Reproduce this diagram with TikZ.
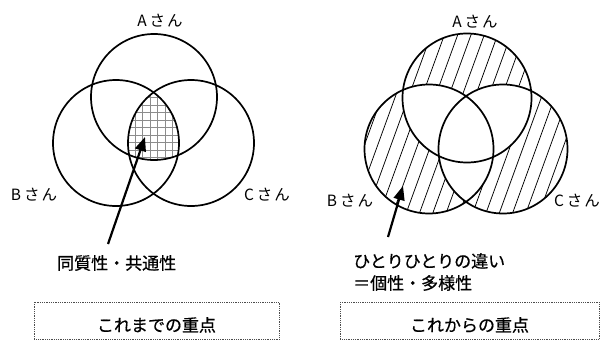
\documentclass[tikz,border=0pt]{standalone}
\usepackage{fontspec}
\setmainfont{Noto Sans CJK JP}
\newfontfamily\jpbold[FakeBold=0.6]{Noto Sans CJK JP}
\usetikzlibrary{arrows.meta}
\newcommand{\sanlabel}[1]{#1\kern3ptさ\kern2ptん}
\begin{document}
\begin{tikzpicture}[x=1pt,y=-1pt,
  circ/.style={line width=1.7pt},
  lbl/.style={font=\fontsize{15.5}{15.5}\selectfont, inner sep=0pt},
  jtxt/.style={font=\jpbold\fontsize{17}{22}\selectfont, inner sep=0pt, anchor=west, align=left},
  boxtxt/.style={font=\jpbold\fontsize{17}{17}\selectfont, inner sep=0pt},
  keyframe/.style={draw=black!70, densely dotted, line width=0.8pt},
  gridline/.style={draw=black!45, line width=0.8pt},
  hatchline/.style={draw=black, line width=0.75pt},
  pointer/.style={line width=2.2pt, -{Triangle[length=14pt,width=11pt]}}
]
\useasboundingbox (0,0) rectangle (601,340);
% ---------- left diagram ----------
\coordinate (lA) at (154,97);
\coordinate (lB) at (116,143);
\coordinate (lC) at (191,143);
\begin{scope}
  \clip (lA) circle (63);
  \clip (lB) circle (63);
  \clip (lC) circle (63);
  \draw[gridline] (100,80) grid[step=7.5pt] (230,220);
\end{scope}
\draw[circ] (lA) circle (63);
\draw[circ] (lB) circle (63);
\draw[circ] (lC) circle (63);
\node[lbl] (lAlab) at (160,21) {\sanlabel{A}};
\node[lbl] (lBlab) at (34,195) {\sanlabel{B}};
\node[lbl] (lClab) at (267,195) {\sanlabel{C}};
\coordinate (lTail) at (108,244);
\coordinate (lTip) at (145,137);
\draw[pointer] (lTail) -- (lTip);
\node[jtxt] (ltext) at (57,263) {同質性・共通性};
\draw[keyframe] (34,302) rectangle (279,339.5);
\node[boxtxt] (lkey) at (156.5,325) {これまでの重点};
% ---------- right diagram ----------
\coordinate (rA) at (467,98);
\coordinate (rB) at (429,149);
\coordinate (rC) at (503,149);
\foreach \c in {rA,rB,rC}{
  \begin{scope}
    \clip (\c) circle (64.5);
    \foreach \k in {0,...,24}{
      \draw[hatchline] (290+\k*13.3,240) -- ++(80,-220);
    }
  \end{scope}
}
\begin{scope}
  \clip (rA) circle (64.5);
  \fill[white] (rB) circle (64.5);
  \fill[white] (rC) circle (64.5);
\end{scope}
\begin{scope}
  \clip (rB) circle (64.5);
  \fill[white] (rC) circle (64.5);
\end{scope}
\draw[circ] (rA) circle (64.5);
\draw[circ] (rB) circle (64.5);
\draw[circ] (rC) circle (64.5);
\node[lbl] (rAlab) at (475,22) {\sanlabel{A}};
\node[lbl] (rBlab) at (350,201) {\sanlabel{B}};
\node[lbl] (rClab) at (577,201) {\sanlabel{C}};
\coordinate (rTail) at (388,237);
\coordinate (rTip) at (403,186);
\draw[pointer] (rTail) -- (rTip);
\node[jtxt] (rtext) at (353,272) {ひとりひとりの違い\\＝個性・多様性};
\draw[keyframe] (340,302) rectangle (599,339.5);
\node[boxtxt] (rkey) at (469.5,325) {これからの重点};
\end{tikzpicture}
\end{document}
